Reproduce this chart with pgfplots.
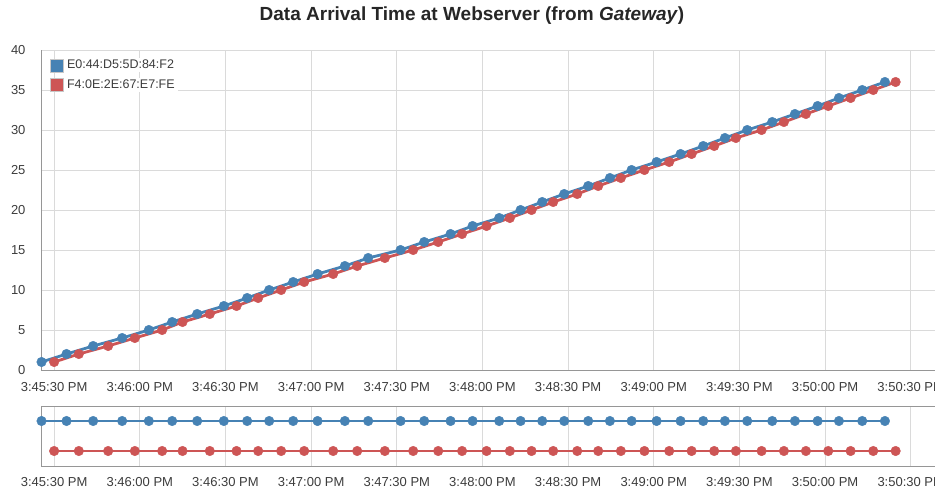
\documentclass[border=0pt]{standalone}
\usepackage{fontspec}
\setmainfont{Liberation Sans}
\usepackage{pgfplots}
\usepackage{pgfplotstable}
\pgfplotsset{compat=1.18}
\definecolor{cblue}{RGB}{70,130,180}
\definecolor{cred}{RGB}{205,85,85}
\definecolor{gridc}{RGB}{218,218,218}
\definecolor{axc}{RGB}{150,150,150}
\definecolor{txtc}{RGB}{60,60,60}

% time in seconds after 3:45:30 PM, value
\pgfplotstableread{
t y
-4.41 1
4.34 2
13.66 3
23.82 4
33.17 5
41.33 6
50.09 7
59.44 8
67.60 9
75.31 10
83.71 11
92.26 12
101.82 13
109.98 14
121.33 15
129.60 16
138.84 17
146.55 18
155.87 19
163.36 20
170.93 21
178.63 22
187.04 23
194.64 24
202.24 25
211.00 26
219.40 27
227.32 28
234.92 29
242.73 30
251.49 31
259.44 32
267.39 33
274.85 34
283.01 35
290.96 36
}\bluedata

\pgfplotstableread{
t y
0.00 1
8.65 2
18.91 3
28.27 4
37.83 5
44.97 6
54.52 7
63.89 8
71.45 9
79.51 10
87.57 11
97.72 12
106.13 13
115.83 14
125.74 15
134.50 16
142.87 17
151.45 18
159.61 19
167.21 20
174.78 21
183.19 22
190.54 23
198.49 24
206.73 25
215.41 26
223.26 27
231.17 28
238.77 29
247.77 30
255.59 31
263.29 32
271.10 33
278.95 34
286.87 35
294.71 36
}\reddata

\pgfplotsset{
  common/.style={
    scale only axis,
    width=904pt,
    xmin=-4.6, xmax=312,
    xtick={0,30,...,300},
    xticklabels={3:45:30 PM,3:46:00 PM,3:46:30 PM,3:47:00 PM,3:47:30 PM,3:48:00 PM,3:48:30 PM,3:49:00 PM,3:49:30 PM,3:50:00 PM,3:50:30 PM},
    tick style={draw=none},
    major tick length=0pt,
    tick label style={font=\fontsize{13}{15}\selectfont, text=txtc},
    /pgf/number format/assume math mode=true,
    major grid style={gridc, line width=0.8pt},
    axis line style={axc, line width=0.9pt},
    clip=false,
  },
  bline/.style={cblue, line width=2.8pt, mark=*, mark size=4.8pt, mark options={solid, fill=cblue, draw=cblue, line width=0.4pt}},
  rline/.style={cred, line width=2.8pt, mark=*, mark size=4.8pt, mark options={solid, fill=cred, draw=cred, line width=0.4pt}},
}

\begin{document}
\begin{tikzpicture}
\begin{axis}[common,
  height=320pt,
  at={(41pt,-370pt)}, anchor=south west,
  ymin=0, ymax=40,
  ytick={0,5,...,40},
  axis x line*=bottom, axis y line*=left,
  grid=major,
  xticklabel style={yshift=-9pt},
  yticklabel style={xshift=-12pt},
  legend style={at={(0,1)}, anchor=north west, xshift=7pt, yshift=-6pt,
    draw=none, fill=none, font=\fontsize{12.5}{14}\selectfont, text=txtc,
    row sep=5pt, inner sep=2pt,
    nodes={inner xsep=3pt, fill=white}},
  legend cell align=left,
]
\addlegendimage{legend image code/.code={\filldraw[fill=cblue, draw=black!22, line width=0.8pt] (0pt,-7pt) rectangle (13pt,6pt);}}
\addlegendentry{E0:44:D5:5D:84:F2}
\addlegendimage{legend image code/.code={\filldraw[fill=cred, draw=black!22, line width=0.8pt] (0pt,-7pt) rectangle (13pt,6pt);}}
\addlegendentry{F4:0E:2E:67:E7:FE}
\addplot[bline, forget plot] table[x=t, y=y] {\bluedata};
\addplot[rline, forget plot] table[x=t, y=y] {\reddata};
\end{axis}

\begin{axis}[common,
  height=60pt,
  at={(41pt,-466pt)}, anchor=south west,
  ymin=-0.5, ymax=1.5,
  ytick=\empty,
  xmajorgrids,
  xticklabel style={yshift=-8pt},
]
\addplot[bline, line width=2.2pt] table[x=t, y expr=1] {\bluedata};
\addplot[rline, line width=2.2pt] table[x=t, y expr=0] {\reddata};
\end{axis}

\node[font=\fontsize{19}{21}\selectfont\bfseries, text=black!85] at (472pt,-16pt) {Data Arrival Time at Webserver (from \textit{Gateway})};

\pgfresetboundingbox
\useasboundingbox (0pt,0pt) rectangle (935pt,-490pt);
\end{tikzpicture}
\end{document}
